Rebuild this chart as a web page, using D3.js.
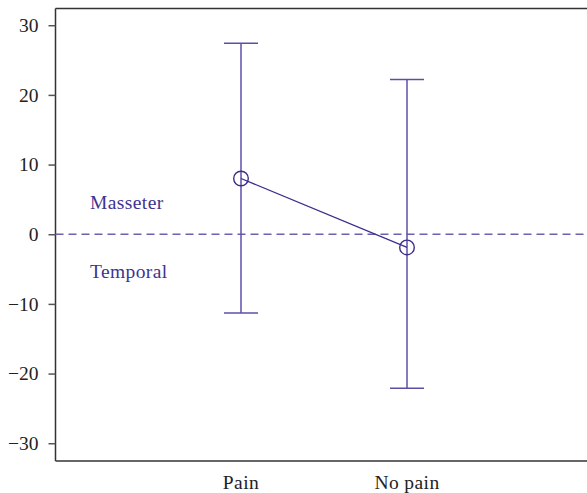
<!DOCTYPE html>
<html><head><meta charset="utf-8">
<script src="https://cdn.jsdelivr.net/npm/d3@7"></script>
<style>body{margin:0;background:#fff}svg{display:block}</style>
</head><body>
<svg id="chart" width="587" height="493"></svg>
<script>
const categories = ["Pain", "No pain"];
const means = [8.0, -1.9];
const upper = [27.4, 22.2];
const lower = [-11.3, -22.1];
const yTicks = [30, 20, 10, 0, -10, -20, -30];
const regionLabels = ["Masseter", "Temporal"];

const svg = d3.select("#chart");
const W = 587, H = 493;
const m = {left: 55.5, right: 0, top: 8.5, bottom: 32};
const font = "'Liberation Serif', 'DejaVu Serif', serif";
const fs = 19.5;

const y = d3.scaleLinear().domain([-32.55, 32.4]).range([H - m.bottom, m.top]);
const x = d3.scalePoint().domain(categories).range([241, 407]);

// frame lines
svg.append("line").attr("x1", m.left).attr("x2", W).attr("y1", m.top).attr("y2", m.top)
  .attr("stroke", "#333").attr("stroke-width", 1.5);
svg.append("line").attr("x1", m.left).attr("x2", W).attr("y1", H - m.bottom).attr("y2", H - m.bottom)
  .attr("stroke", "#333").attr("stroke-width", 1.5);

// y axis
const yAxis = d3.axisLeft(y).tickValues(yTicks).tickSize(7).tickPadding(10)
  .tickFormat(d => d < 0 ? "\u2212" + Math.abs(d) : d);
const ga = svg.append("g").attr("transform", `translate(${m.left},0)`).call(yAxis);
ga.select(".domain").attr("stroke", "#333").attr("stroke-width", 1.5)
  .attr("d", `M0,${m.top}V${H - m.bottom}`);
ga.selectAll(".tick line").attr("stroke", "#555").attr("stroke-width", 1.5);
ga.selectAll(".tick text").attr("font-family", font).attr("font-size", fs).attr("fill", "#222");

// x labels
svg.selectAll(".xl").data(categories).enter().append("text")
  .attr("x", d => x(d)).attr("y", 489).attr("text-anchor", "middle")
  .attr("font-family", font).attr("font-size", fs).attr("letter-spacing", 0.4)
  .attr("fill", "#222").text(d => d);

// zero dashed line
svg.append("line").attr("x1", m.left).attr("x2", W).attr("y1", y(0)).attr("y2", y(0))
  .attr("stroke", "#6f5fb0").attr("stroke-width", 1.5).attr("stroke-dasharray", "8,5");

// region labels
svg.append("text").attr("x", 90).attr("y", y(0) - 25).attr("font-family", font).attr("font-size", fs)
  .attr("letter-spacing", 0.4).attr("fill", "#3e3391").text(regionLabels[0]);
svg.append("text").attr("x", 90).attr("y", y(0) + 44).attr("font-family", font).attr("font-size", fs)
  .attr("letter-spacing", 0.4).attr("fill", "#3e3391").text(regionLabels[1]);

const ebColor = "#5e4fa6";
const data = categories.map((c, i) => ({c, mean: means[i], hi: upper[i], lo: lower[i]}));
const cap = 17;
const g = svg.append("g");
data.forEach(d => {
  const cx = x(d.c);
  g.append("line").attr("x1", cx).attr("x2", cx).attr("y1", y(d.hi)).attr("y2", y(d.lo))
    .attr("stroke", ebColor).attr("stroke-width", 1.5);
  [d.hi, d.lo].forEach(v => g.append("line").attr("x1", cx - cap).attr("x2", cx + cap)
    .attr("y1", y(v)).attr("y2", y(v)).attr("stroke", ebColor).attr("stroke-width", 1.5));
});

// connecting line
svg.append("path").datum(data)
  .attr("d", d3.line().x(d => x(d.c)).y(d => y(d.mean)))
  .attr("fill", "none").attr("stroke", "#3a2d8c").attr("stroke-width", 1.3);

svg.selectAll(".pt").data(data).enter().append("circle")
  .attr("cx", d => x(d.c)).attr("cy", d => y(d.mean)).attr("r", 7.3)
  .attr("fill", "none").attr("stroke", "#3a2d8c").attr("stroke-width", 1.4);
</script>
</body></html>
